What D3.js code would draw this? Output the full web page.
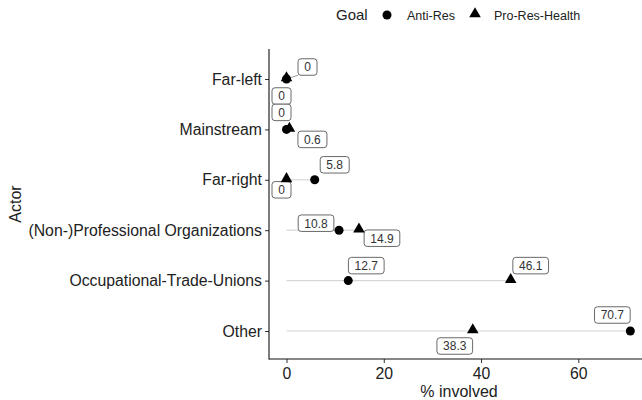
<!DOCTYPE html>
<html><head><meta charset="utf-8">
<script src="https://cdn.jsdelivr.net/npm/d3@7"></script>
<style>body{margin:0;background:#fff}svg{display:block;font-family:"Liberation Sans",Arial,sans-serif}</style>
</head><body><div id="chart"></div>
<script>
const actors = ["Far-left","Mainstream","Far-right","(Non-)Professional Organizations","Occupational-Trade-Unions","Other"];
const antiRes = [0, 0, 5.8, 10.8, 12.7, 70.7];
const proResHealth = [0, 0.6, 0, 14.9, 46.1, 38.3];
const xTicks = [0, 20, 40, 60];
const goals = ["Anti-Res", "Pro-Res-Health"];
// label placement nudges (px) as produced by label repelling
const antiNudge = [[-5,17],[-5,-17],[20,-15],[-23,-7],[18,-15],[-18,-16]];
const proNudge = [[21,-12],[23,10],[-5,10],[23,8],[20,-15],[-18,15]];

const W = 642, H = 400;
const svg = d3.select("#chart").append("svg").attr("width", W).attr("height", H);
const m = {left: 269, right: 642, top: 49, bottom: 359};
const x = d3.scaleLinear().domain([-3.6, 73.1]).range([m.left, m.right]);
const y = d3.scalePoint().domain(actors).range([79, 331]);

// axes
const xAxis = svg.append("g").attr("transform", `translate(0,${m.bottom})`)
  .call(d3.axisBottom(x).tickValues(xTicks).tickSize(4).tickPadding(5).tickFormat(d3.format("d")));
const yAxis = svg.append("g").attr("transform", `translate(${m.left},0)`)
  .call(d3.axisLeft(y).tickSize(4).tickPadding(3));
[xAxis, yAxis].forEach(g => {
  g.select(".domain").remove();
  g.selectAll(".tick line").attr("stroke", "#333").attr("stroke-width", 1);
  g.selectAll(".tick text").attr("fill", "#222").style("font-size", "15.8px");
});
svg.append("line").attr("x1", m.left).attr("x2", m.left).attr("y1", m.top).attr("y2", m.bottom + 0.5).attr("stroke", "#111").attr("stroke-width", 1.1);
svg.append("line").attr("x1", m.left).attr("x2", m.right).attr("y1", m.bottom).attr("y2", m.bottom).attr("stroke", "#111").attr("stroke-width", 1.1);

svg.append("text").attr("x", 459).attr("y", 397).attr("text-anchor", "middle")
  .style("font-size", "16px").attr("fill", "#222").text("% involved");
svg.append("text").attr("transform", `translate(21,${(m.top + m.bottom) / 2}) rotate(-90)`).attr("text-anchor", "middle")
  .style("font-size", "16px").attr("fill", "#222").text("Actor");

// data rows
const rows = actors.map((a, i) => ({actor: a, anti: antiRes[i], pro: proResHealth[i], i}));

// connecting segments
svg.append("g").selectAll("line").data(rows).join("line")
  .attr("x1", x(0)).attr("x2", d => x(Math.max(d.anti, d.pro)))
  .attr("y1", d => y(d.actor)).attr("y2", d => y(d.actor))
  .attr("stroke", "#d6d6d6").attr("stroke-width", 1.2);

const tri = d3.symbol().type(d3.symbolTriangle).size(58);

// labels
const labels = [];
rows.forEach(d => {
  labels.push({v: d.anti, px: x(d.anti), py: y(d.actor), n: antiNudge[d.i]});
  labels.push({v: d.pro, px: x(d.pro), py: y(d.actor), n: proNudge[d.i]});
});
const lg = svg.append("g");
labels.forEach(l => {
  const txt = String(l.v);
  const cx = l.px + l.n[0], cy = l.py + l.n[1];
  const t = lg.append("text").attr("x", cx).attr("y", cy + 4.3).attr("text-anchor", "middle")
    .style("font-size", "12px").attr("fill", "#333").text(txt);
  const bb = t.node().getBBox();
  const bw = bb.width + 12, bh = 16.5;
  const bx = cx - bw / 2, by = cy - bh / 2;
  const ex = Math.max(bx, Math.min(l.px, bx + bw)), ey = Math.max(by, Math.min(l.py, by + bh));
  const dist = Math.hypot(ex - l.px, ey - l.py);
  if (dist > 9) {
    lg.insert("line", "text").attr("x1", l.px).attr("y1", l.py).attr("x2", ex).attr("y2", ey)
      .attr("stroke", "#9a9a9a").attr("stroke-width", 1);
  }
  lg.insert("rect", "text").attr("x", bx).attr("y", by).attr("width", bw).attr("height", bh)
    .attr("rx", 3).attr("fill", "#fff").attr("stroke", "#444").attr("stroke-width", 0.8);
  t.raise();
});

// points
svg.append("g").selectAll("circle").data(rows).join("circle")
  .attr("cx", d => x(d.anti)).attr("cy", d => y(d.actor)).attr("r", 4.5).attr("fill", "#000");
svg.append("g").selectAll("path").data(rows).join("path")
  .attr("d", tri).attr("transform", d => `translate(${x(d.pro)},${y(d.actor) - 1})`).attr("fill", "#000");

// legend
const leg = svg.append("g");
leg.append("text").attr("x", 336).attr("y", 20).style("font-size", "15px").attr("fill", "#222").text("Goal");
leg.append("circle").attr("cx", 387).attr("cy", 15).attr("r", 4.5).attr("fill", "#000");
leg.append("text").attr("x", 407).attr("y", 20).style("font-size", "12.5px").attr("fill", "#222").text(goals[0]);
leg.append("path").attr("d", tri).attr("transform", "translate(475,14)").attr("fill", "#000");
leg.append("text").attr("x", 494).attr("y", 20).style("font-size", "12.5px").attr("fill", "#222").text(goals[1]);
</script></body></html>
